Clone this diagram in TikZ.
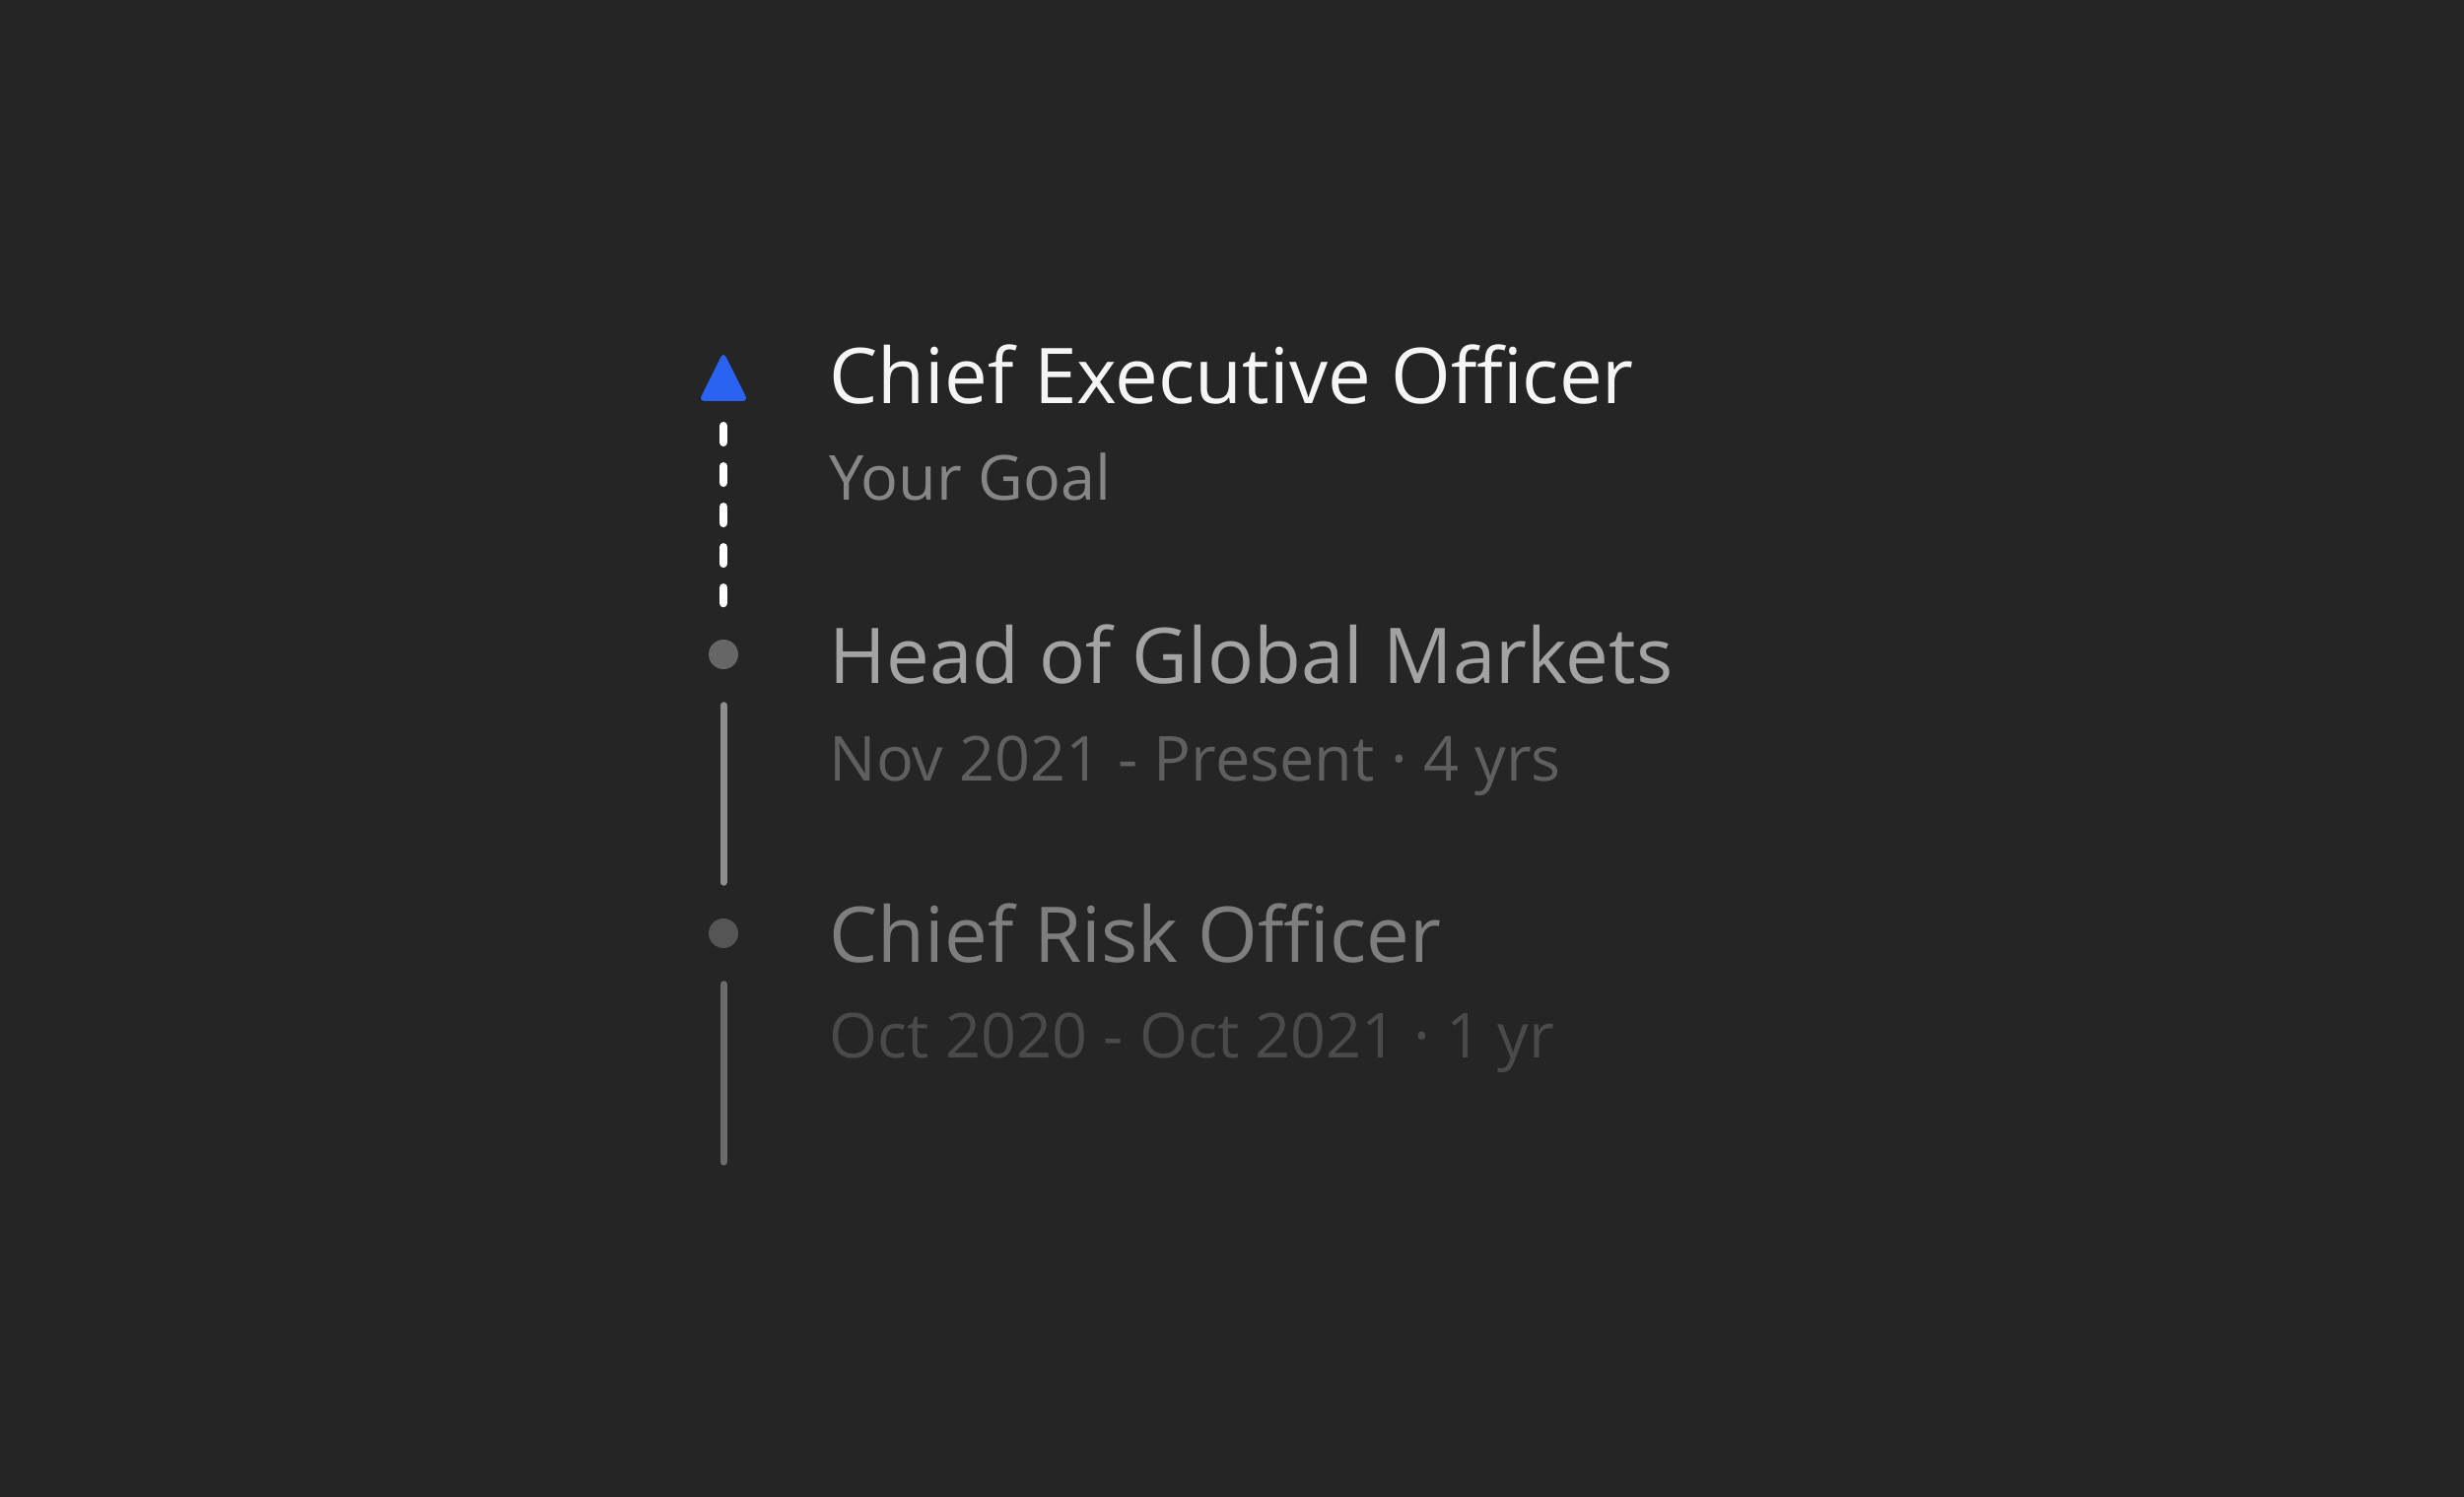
\documentclass[tikz,border=0pt]{standalone}
\usepackage{fontspec}
\setmainfont{Open Sans}
\definecolor{bgdark}{HTML}{252525}
\definecolor{goalblue}{HTML}{2A62F2}
\definecolor{nowgray}{HTML}{A3A3A3}
\definecolor{nowsub}{HTML}{5F5F5F}
\definecolor{nowdot}{HTML}{666666}
\definecolor{nowline}{HTML}{8E8E8E}
\definecolor{oldgray}{HTML}{7E7E7E}
\definecolor{oldsub}{HTML}{4A4A4A}
\definecolor{olddot}{HTML}{555555}
\definecolor{oldline}{HTML}{6B6B6B}
\definecolor{goalsub}{HTML}{868686}
\begin{document}
\begin{tikzpicture}
    [
    x=0.01cm, y=-0.01cm,
    title/.style={anchor=base west,inner sep=0pt,font=\fontsize{22.2pt}{26pt}\selectfont},
    sub/.style={anchor=base west,inner sep=0pt,font=\fontsize{17.9pt}{21pt}\selectfont},
    stepdot/.style={circle,inner sep=0pt,minimum size=0.3cm},
    dashline/.style={white,line width=0.08cm,line cap=round,dash pattern=on 0.17cm off 0.24cm},
    pastline/.style={line width=0.07cm,line cap=round}
    ]
    \fill [bgdark] (0,0) rectangle (2500,1519);
    \useasboundingbox (0,0) rectangle (2500,1519);
    % goal marker
    \fill [goalblue,rounded corners=0.06cm] (734,357) -- (759,407) -- (709,407) -- cycle;
    \coordinate (goal) at (734,404);
    \node (head) at (734,664) [stepdot,fill=nowdot] {};
    \node (cro) at (734,947) [stepdot,fill=olddot] {};
    \coordinate (start) at (734,1179);
    \draw [dashline,shorten <=0.28cm,shorten >=0.36cm] (goal) -- (head);
    \draw [pastline,nowline,shorten <=0.36cm,shorten >=0.36cm] (head) -- (cro);
    \draw [pastline,oldline,shorten <=0.36cm] (cro) -- (start);
    % texts
    \node (ceo) at (841,410) [title,text=white!96!black] {Chief Executive Officer};
    \node (ceosub) at (841,508) [sub,text=goalsub] {Your Goal};
    \node (hgm) at (841,694) [title,text=nowgray] {Head of Global Markets};
    \node (hgmsub) at (841,792) [sub,text=nowsub] {Nov 2021 - Present · 4 yrs};
    \node (crot) at (841,976) [title,text=oldgray] {Chief Risk Officer};
    \node (crosub) at (841,1073) [sub,text=oldsub] {Oct 2020 - Oct 2021 · 1 yr};
\end{tikzpicture}
\end{document}
